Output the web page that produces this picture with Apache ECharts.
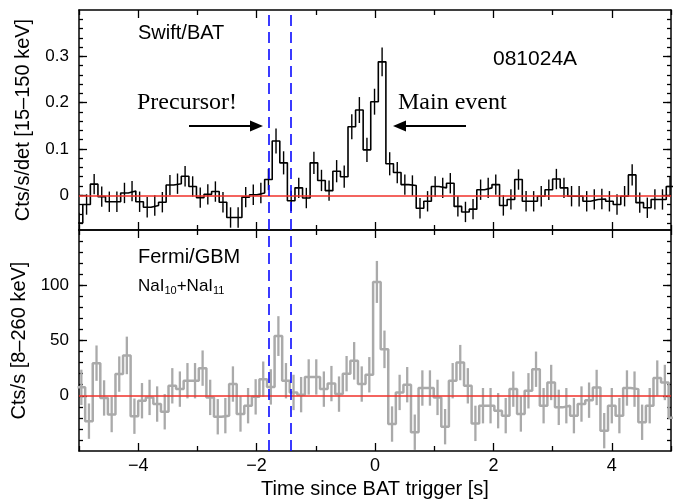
<!DOCTYPE html>
<html><head><meta charset="utf-8">
<script src="https://cdn.jsdelivr.net/npm/echarts@6/dist/echarts.min.js"></script>
<style>html,body{margin:0;padding:0;background:#fff}#c{width:678px;height:500px}</style>
</head><body><div id="c"></div>
<script>
// ---- Swift/BAT (15-150 keV), 0.128 s bins, first bin centred at -5.0 s
const batStart = -5.0;
const batWidth = 0.128;
const batValues = [
 -0.060,-0.020,0.024,-0.003,-0.014,-0.014,0.005,0.009,-0.014,-0.026,
 -0.022,-0.015,0.022,0.025,0.041,0.019,-0.005,0.002,0.008,-0.015,
 -0.048,-0.048,-0.004,0.001,0.005,0.034,0.117,0.070,-0.012,0.016,
 -0.006,0.070,0.032,0.010,0.052,0.040,0.148,0.184,0.098,0.202,
 0.288,0.068,0.049,0.023,0.021,-0.028,-0.013,0.019,0.016,0.026,
 -0.024,-0.036,-0.030,0.012,0.016,0.023,-0.022,-0.009,0.034,-0.013,
 -0.013,-0.002,0.012,0.035,0.016,-0.002,-0.002,-0.013,-0.009,-0.008,
 -0.013,-0.020,-0.002,0.044,-0.016,-0.027,-0.009,-0.009,0.019
];
const batErrors = [
 0.022,0.022,0.022,0.022,0.022,0.022,0.022,0.022,0.022,0.022,
 0.022,0.022,0.022,0.022,0.022,0.022,0.022,0.022,0.022,0.022,
 0.022,0.022,0.022,0.022,0.022,0.023,0.027,0.025,0.022,0.022,
 0.022,0.024,0.023,0.022,0.024,0.024,0.027,0.028,0.026,0.028,
 0.031,0.025,0.023,0.022,0.022,0.022,0.022,0.022,0.022,0.022,
 0.022,0.022,0.022,0.022,0.022,0.022,0.022,0.022,0.022,0.022,
 0.022,0.022,0.022,0.022,0.022,0.022,0.022,0.022,0.022,0.022,
 0.022,0.022,0.022,0.023,0.022,0.022,0.022,0.022,0.022
];
// ---- Fermi/GBM NaI10+NaI11 (8-260 keV), 0.128 s bins
const gbmStart = -4.96;
const gbmWidth = 0.128;
const gbmValues = [
 7.6,-23,29.5,-2,-17,19.6,36.5,-18.5,-4.5,-1.5,
 -7.5,-14.5,9,6,13.6,13.6,25,-1.5,-19,-18,
 10.6,-16.5,-9,-1,15,8,54,13.6,3,1,
 17,17,6,11,1.5,20,31.6,10.6,19,103,
 42,-25.6,3,10,-33,7,7,-1.5,-28,13.6,
 30,9,-25,-9,-9,-13.5,-18,6,-16.5,4.5,
 24,-9,12,-10.5,-9,-18,-7.5,-4,7.5,-31.6,
 -9,-18,7,6,-24,-9,16,12,-20
];
const gbmErrors = [
 16,16,16,16,16,16,17,16,16,16,
 16,16,16,16,16,16,16,16,16,16,
 16,16,16,16,16,16,18,16,16,16,
 16,16,16,16,16,16,17,16,16,19,
 17,16,16,16,16,16,16,16,16,16,
 16,16,16,16,16,16,16,16,16,16,
 16,16,16,16,16,16,16,16,16,16,
 16,16,16,16,16,16,16,16,16
];
const markerTimes = [-1.79, -1.42];
const xRange = [-5, 5];
const xMajorTicks = [-4, -2, 0, 2, 4];
const xMinorTicks = [-5, -3, -1, 1, 3, 5];
const batRange = [-0.075, 0.4];
const batMajorTicks = [0, 0.1, 0.2, 0.3];
const batMinorTicks = [-0.06,-0.04,-0.02,0,0.02,0.04,0.06,0.08,0.1,0.12,0.14,0.16,0.18,0.2,0.22,0.24,0.26,0.28,0.3,0.32,0.34,0.36,0.38];
const gbmRange = [-50, 150];
const gbmMajorTicks = [0, 50, 100];
const gbmMinorTicks = [-40,-30,-20,-10,0,10,20,30,40,50,60,70,80,90,100,110,120,130,140];

const FONT = 'Liberation Sans, Arial, Helvetica, sans-serif';
const SERIF = 'Liberation Serif, Times New Roman, serif';

function stepData(start, width, values) {
  const pts = [];
  values.forEach((v, i) => {
    const c = start + i * width;
    pts.push([c - width / 2, v], [c + width / 2, v]);
  });
  return pts;
}
function errData(start, width, values, errs) {
  return values.map((v, i) => [start + i * width, v - errs[i], v + errs[i]]);
}
function errSeries(xi, yi, data, color, w) {
  return {
    type: 'custom', xAxisIndex: xi, yAxisIndex: yi, clip: true, silent: true,
    data: data, encode: { x: 0, y: [1, 2] },
    renderItem: function (params, api) {
      const a = api.coord([api.value(0), api.value(1)]);
      const b = api.coord([api.value(0), api.value(2)]);
      return { type: 'line', shape: { x1: a[0], y1: a[1], x2: b[0], y2: b[1] },
               style: { stroke: color, lineWidth: w } };
    }
  };
}
const xFmt = v => (v < 0 ? '\u2212' : '') + Math.abs(v);

const grids = [
  { left: 79, right: 7, top: 10, height: 220 },
  { left: 79, right: 7, top: 230, height: 221 }
];
const xAxes = [], yAxes = [];
for (let g = 0; g < 2; g++) {
  ['bottom', 'top'].forEach(pos => {
    [[xMajorTicks, 8, true], [xMinorTicks, 5, false]].forEach(([ticks, len, major]) => {
      const showLabel = (g === 1 && pos === 'bottom' && major);
      xAxes.push({
        gridIndex: g, type: 'value', min: xRange[0], max: xRange[1], position: pos,
        axisLine: { show: major, onZero: false, lineStyle: { color: '#000', width: 1.5 } },
        axisTick: { show: true, inside: true, length: len, customValues: ticks, lineStyle: { color: '#000', width: 1.3 } },
        axisLabel: { show: showLabel, customValues: xMajorTicks, formatter: xFmt, fontFamily: FONT, fontSize: 18, color: '#000', margin: 6 },
        splitLine: { show: false },
        name: showLabel ? 'Time since BAT trigger [s]' : '',
        nameLocation: 'middle', nameGap: 28,
        nameTextStyle: { fontFamily: FONT, fontSize: 20, color: '#000' }
      });
    });
  });
  const range = g === 0 ? batRange : gbmRange;
  const maj = g === 0 ? batMajorTicks : gbmMajorTicks;
  const min = g === 0 ? batMinorTicks : gbmMinorTicks;
  ['left', 'right'].forEach(pos => {
    [[maj, 8, true], [min, 4, false]].forEach(([ticks, len, major]) => {
      const showLabel = (pos === 'left' && major);
      yAxes.push({
        gridIndex: g, type: 'value', min: range[0], max: range[1], position: pos,
        axisLine: { show: major, onZero: false, lineStyle: { color: '#000', width: 1.5 } },
        axisTick: { show: true, inside: true, length: len, customValues: ticks, lineStyle: { color: '#000', width: 1.3 } },
        axisLabel: { show: showLabel, customValues: maj, fontFamily: FONT, fontSize: 17, color: '#000', margin: 10 },
        splitLine: { show: false },
        name: showLabel ? (g === 0 ? 'Cts/s/det [15\u2013150 keV]' : 'Cts/s [8\u2013260 keV]') : '',
        nameLocation: 'middle', nameGap: 46,
        nameTextStyle: { fontFamily: FONT, fontSize: 20, color: '#000' }
      });
    });
  });
}

function marks() {
  const d = [{ yAxis: 0, lineStyle: { color: '#f0302a', width: 1.7, type: 'solid' } }];
  markerTimes.forEach(t => d.push({ xAxis: t, lineStyle: { color: '#0a0aff', width: 1.6, type: [11, 6] } }));
  return { silent: true, symbol: 'none', label: { show: false }, animation: false, data: d };
}

const series = [
  errSeries(0, 0, errData(batStart, batWidth, batValues, batErrors), '#000', 1.4),
  { type: 'line', xAxisIndex: 0, yAxisIndex: 0, data: stepData(batStart, batWidth, batValues),
    showSymbol: false, symbol: 'none', clip: true, lineStyle: { color: '#000', width: 1.6 }, markLine: marks(), z: 3 },
  errSeries(4, 4, errData(gbmStart, gbmWidth, gbmValues, gbmErrors), '#aaaaaa', 2.3),
  { type: 'line', xAxisIndex: 4, yAxisIndex: 4, data: stepData(gbmStart, gbmWidth, gbmValues),
    showSymbol: false, symbol: 'none', clip: true, lineStyle: { color: '#aaaaaa', width: 2.5 }, markLine: marks(), z: 3 }
];

const txt = (text, x, y, font, align) => ({ type: 'text', x: x, y: y, z: 10,
  style: { text: text, font: font, fill: '#000', align: align || 'left', verticalAlign: 'middle' } });

const graphic = [
  txt('Swift/BAT', 138, 33, '20px ' + FONT),
  txt('081024A', 493, 59, '21px ' + FONT),
  txt('Precursor!', 137, 103, '24px ' + SERIF),
  txt('Main event', 398, 103, '24px ' + SERIF),
  txt('Fermi/GBM', 138, 257, '20px ' + FONT),
  { type: 'text', x: 138, y: 286, z: 10, style: {
      text: '{a|NaI}{s|10}{a|+NaI}{s|11}', fill: '#000', verticalAlign: 'middle',
      rich: { a: { font: '17px ' + FONT, fill: '#000' },
              s: { font: '11px ' + FONT, fill: '#000', padding: [9, 0, 0, 0] } } } },
  { type: 'line', z: 10, shape: { x1: 189, y1: 126, x2: 252, y2: 126 }, style: { stroke: '#000', lineWidth: 2.2 } },
  { type: 'polygon', z: 10, shape: { points: [[250, 120.5], [263, 126], [250, 131.5]] }, style: { fill: '#000' } },
  { type: 'line', z: 10, shape: { x1: 404, y1: 126, x2: 466, y2: 126 }, style: { stroke: '#000', lineWidth: 2.2 } },
  { type: 'polygon', z: 10, shape: { points: [[406, 120.5], [393, 126], [406, 131.5]] }, style: { fill: '#000' } }
];

const chart = echarts.init(document.getElementById('c'), null, { renderer: 'canvas' });
chart.setOption({
  animation: false,
  backgroundColor: '#fff',
  grid: grids,
  xAxis: xAxes,
  yAxis: yAxes,
  series: series,
  graphic: graphic
});
</script>
</body></html>
